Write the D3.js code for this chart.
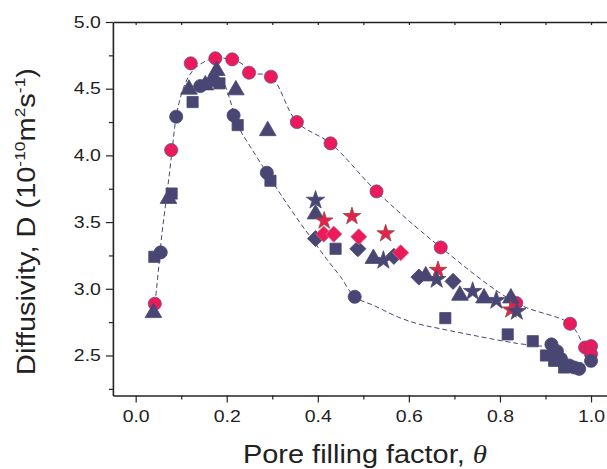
<!DOCTYPE html>
<html>
<head>
<meta charset="utf-8">
<script src="https://cdn.jsdelivr.net/npm/d3@7"></script>
<style>
  body { margin: 0; background: #fff; }
  svg { display: block; }
  .axis path, .axis line { stroke: #222; }
  .axis text { font-family: "Liberation Sans", Arial, sans-serif; font-size: 16.5px; fill: #222; }
</style>
</head>
<body>
<div id="chart"></div>
<script>
// values: [theta, D]
const pinkCircles = [
  [0.042, 2.888], [0.078, 4.04], [0.121, 4.69], [0.175, 4.728], [0.212, 4.72],
  [0.249, 4.62], [0.297, 4.59], [0.354, 4.25], [0.428, 4.09], [0.529, 3.73],
  [0.670, 3.31], [0.836, 2.893], [0.954, 2.738], [0.987, 2.56], [1.0, 2.57], [1.0, 2.51]
];
const darkCircles = [
  [0.055, 3.273], [0.089, 4.29], [0.142, 4.52], [0.171, 4.565], [0.215, 4.30],
  [0.288, 3.87], [0.481, 2.94], [0.913, 2.583], [0.925, 2.532], [0.934, 2.475],
  [0.952, 2.425], [0.963, 2.41], [0.974, 2.40], [1.0, 2.46]
];
const darkSquares = [
  [0.041, 3.24], [0.079, 3.714], [0.125, 4.40], [0.184, 4.54], [0.224, 4.227],
  [0.296, 3.81], [0.439, 3.30], [0.680, 2.78], [0.817, 2.658], [0.872, 2.607],
  [0.901, 2.50], [0.919, 2.46], [0.941, 2.41]
];
const darkTriangles = [
  [0.039, 2.82], [0.072, 3.676], [0.117, 4.495], [0.153, 4.527], [0.178, 4.635],
  [0.220, 4.49], [0.290, 4.184], [0.395, 3.56], [0.522, 3.226], [0.637, 3.095],
  [0.712, 2.95], [0.765, 2.93], [0.824, 2.93]
];
const darkDiamonds = [
  [0.395, 3.376], [0.488, 3.30], [0.567, 3.243], [0.622, 3.088], [0.697, 3.056]
];
const pinkDiamonds = [
  [0.413, 3.41], [0.435, 3.41], [0.490, 3.39], [0.582, 3.27]
];
const darkStars = [
  [0.395, 3.664], [0.544, 3.213], [0.661, 3.07], [0.740, 2.98], [0.792, 2.913], [0.837, 2.83]
];
const pinkStars = [
  [0.414, 3.51], [0.475, 3.543], [0.549, 3.414], [0.664, 3.14], [0.824, 2.843]
];
// dashed guide curves
const upperFit = [
  [0.0425, 2.888], [0.05, 3.14], [0.057, 3.39], [0.066, 3.64], [0.075, 3.89],
  [0.082, 4.10], [0.089, 4.29], [0.101, 4.465], [0.116, 4.59], [0.134, 4.665],
  [0.156, 4.71], [0.175, 4.728], [0.212, 4.72], [0.237, 4.677], [0.249, 4.62],
  [0.297, 4.59], [0.354, 4.25], [0.428, 4.09], [0.529, 3.73], [0.670, 3.31],
  [0.836, 2.893], [0.954, 2.738], [0.978, 2.61]
];
const lowerFit = [
  [0.105, 4.48], [0.142, 4.545], [0.171, 4.585], [0.19, 4.56], [0.205, 4.44],
  [0.224, 4.227], [0.252, 4.064], [0.288, 3.87], [0.318, 3.71], [0.362, 3.49],
  [0.39, 3.36], [0.42, 3.22], [0.45, 3.09], [0.481, 2.94], [0.523, 2.875],
  [0.575, 2.79], [0.619, 2.738], [0.67, 2.70], [0.758, 2.64], [0.839, 2.59], [0.897, 2.568]
];
const xMajor = [0, 0.2, 0.4, 0.6, 0.8, 1.0];
const xMinor = [0.1, 0.3, 0.5, 0.7, 0.9];
const yMajor = [2.5, 3.0, 3.5, 4.0, 4.5, 5.0];
const yMinor = [2.25, 2.75, 3.25, 3.75, 4.25, 4.75];

const W = 607, H = 469;
const dark = "#4a4674", pink = "#ec1a5a";

const svg = d3.select("#chart").append("svg")
  .attr("width", W).attr("height", H);

const x = d3.scaleLinear().domain([-0.05, 1.05]).range([112.9, 613.8]);
const y = d3.scaleLinear().domain([2.2, 5.0]).range([395.5, 22]);

function stretch(sel, k) {
  sel.each(function () {
    const w = this.getComputedTextLength();
    d3.select(this).attr("textLength", w * k).attr("lengthAdjust", "spacingAndGlyphs");
  });
}

// axes
const gx = svg.append("g").attr("class", "axis")
  .attr("transform", `translate(0,${y.range()[0]})`)
  .call(d3.axisBottom(x).tickValues(xMajor).tickFormat(d3.format(".1f"))
    .tickSizeInner(7).tickSizeOuter(0).tickPadding(8));
svg.append("g").attr("class", "axis")
  .attr("transform", `translate(0,${y.range()[0]})`)
  .call(d3.axisBottom(x).tickValues(xMinor).tickFormat("").tickSizeInner(4).tickSizeOuter(0))
  .select(".domain").remove();
svg.append("g").attr("class", "axis")
  .attr("transform", `translate(0,${y.range()[1]})`)
  .call(d3.axisTop(x).tickValues(xMajor.concat(xMinor)).tickFormat("").tickSizeInner(-3).tickSizeOuter(0));

const gy = svg.append("g").attr("class", "axis")
  .attr("transform", `translate(${x.range()[0]},0)`)
  .call(d3.axisLeft(y).tickValues(yMajor).tickFormat(d3.format(".1f"))
    .tickSizeInner(7).tickSizeOuter(0).tickPadding(5));
svg.append("g").attr("class", "axis")
  .attr("transform", `translate(${x.range()[0]},0)`)
  .call(d3.axisLeft(y).tickValues(yMinor).tickFormat("").tickSizeInner(4).tickSizeOuter(0))
  .select(".domain").remove();

svg.selectAll(".axis .domain").attr("stroke-width", 1.6);
svg.selectAll(".axis line").attr("stroke-width", 1.2);
stretch(gx.selectAll("text"), 1.18);
stretch(gy.selectAll("text"), 1.18);

// dashed curves
const line = d3.line().x(d => x(d[0])).y(d => y(d[1])).curve(d3.curveCatmullRom.alpha(0.5));
[upperFit, lowerFit].forEach(f => {
  svg.append("path").datum(f)
    .attr("fill", "none").attr("stroke", dark).attr("stroke-width", 1)
    .attr("stroke-dasharray", "5,3").attr("d", line);
});

// markers
function drawSeries(data, type, size, fill, stroke, rot) {
  svg.append("g").selectAll("path").data(data).enter().append("path")
    .attr("transform", d => `translate(${x(d[0])},${y(d[1])}) rotate(${rot || 0})`)
    .attr("d", d3.symbol().type(type).size(size))
    .attr("fill", fill).attr("stroke", stroke).attr("stroke-width", 0.8);
}
drawSeries(pinkCircles, d3.symbolCircle, 135, pink, "#6a4f86");
drawSeries(darkCircles, d3.symbolCircle, 135, dark, dark);
drawSeries(darkSquares, d3.symbolSquare, 125, dark, dark);
drawSeries(darkTriangles, d3.symbolTriangle, 120, dark, dark);
drawSeries(darkDiamonds, d3.symbolSquare, 130, dark, dark, 45);
drawSeries(pinkDiamonds, d3.symbolSquare, 130, pink, "#d66a8c", 45);
drawSeries(pinkStars, d3.symbolStar, 95, "#e8204f", "#8a4a3a");
drawSeries(darkStars, d3.symbolStar, 105, dark, dark);

// titles
const xt = svg.append("text")
  .attr("x", 365).attr("y", 463)
  .attr("text-anchor", "middle")
  .attr("textLength", 244).attr("lengthAdjust", "spacingAndGlyphs")
  .style("font-family", "'Liberation Sans', Arial, sans-serif")
  .style("font-size", "25px").style("fill", "#222");
xt.append("tspan").text("Pore filling factor, ");
xt.append("tspan").text("\u03b8")
  .style("font-family", "'Liberation Serif', 'Times New Roman', serif")
  .style("font-style", "italic");

const yt = svg.append("text")
  .attr("transform", "translate(35,221.5) rotate(-90)")
  .attr("text-anchor", "middle")
  .attr("textLength", 307).attr("lengthAdjust", "spacingAndGlyphs")
  .style("font-family", "'Liberation Sans', Arial, sans-serif")
  .style("font-size", "25px").style("fill", "#222");
yt.append("tspan").text("Diffusivity, D (10");
yt.append("tspan").attr("dy", -10).style("font-size", "15px").text("-10");
yt.append("tspan").attr("dy", 10).text("m");
yt.append("tspan").attr("dy", -10).style("font-size", "15px").text("2");
yt.append("tspan").attr("dy", 10).text("s");
yt.append("tspan").attr("dy", -10).style("font-size", "15px").text("-1");
yt.append("tspan").attr("dy", 10).text(")");
</script>
</body>
</html>
